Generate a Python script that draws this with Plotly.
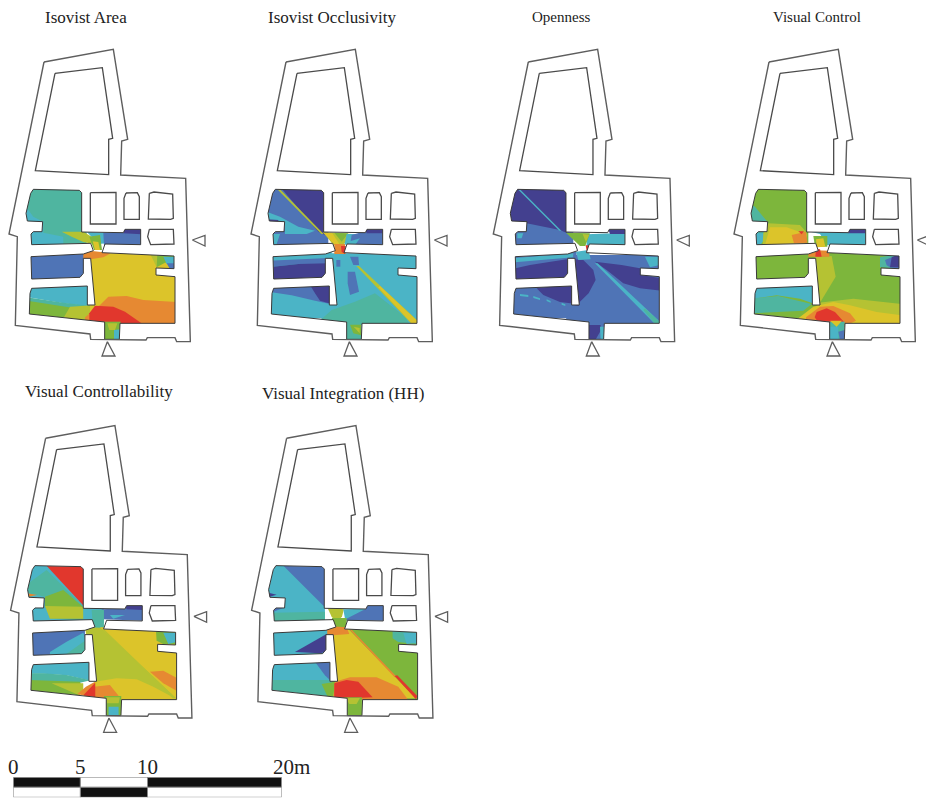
import plotly.graph_objects as go

# ---------- palette of the isovist value classes ----------
COL = dict(I="#43408f", B="#4f74b6", C="#4bb4c6", T="#4fb5a0", G="#7db63c",
           L="#b5c233", Y="#dcc42a", O="#e68932", R="#e1372d")

TITLES = ["Isovist Area", "Isovist Occlusivity", "Openness", "Visual Control",
          "Visual Controllability", "Visual Integration (HH)"]
TITLE_X = [86, 332, 560.5, 816.5, 99, 343]
TITLE_Y = [17, 17, 17, 17, 391, 393]
TITLE_SIZE = [17, 17, 15, 15, 17, 17]
PANEL_DX = [0, 242, 484.3, 725, 1.6, 242.6]
PANEL_DY = [0, 0, 0, 0, 376.3, 376.3]

# ---------- plan geometry (plan units) ----------
OUTER = [(132,66),(340,28),(383,298),(365,303),(362,405),(557,415),(571,905),(530,905),(525,893),
         (442,893),(438,900),(272,898),(270,882),(46,856),(52,590),(27,582),(132,66)]
VOIDS = [
    [(165,100),(307,83),(338,295),(326,298),(326,404),(106,392),(165,100)],
    [(271,458),(348,457),(348,552),(271,552),(271,458)],
    [(378,459),(412,458),(418,470),(418,538),(372,538),(372,475),(378,459)],
    [(448,460),(462,456),(518,462),(520,535),(512,538),(445,537),(448,460)],
    [(448,568),(520,568),(522,612),(452,614),(443,590),(448,568)],
]
FLOOR = [(100,448),(238,451),(245,458),(245,576),(370,578),(375,568),(422,568),(422,614),(315,612),
         (306,638),(522,648),(522,686),(468,684),(468,705),(525,710),(525,850),(360,850),(358,898),
         (314,898),(314,846),(88,822),(90,760),(95,745),(262,738),(262,795),(285,795),(272,655),
         (250,655),(250,700),(240,712),(95,717),(93,650),(250,642),(280,632),(272,610),(95,614),
         (93,582),(100,575),(126,575),(128,545),(82,543),(78,520),(92,460),(100,448)]
ARROW_S = [(322,905),(345,948),(306,948),(322,905)]
ARROW_E = [(577,600),(615,586),(615,618),(577,600)]

# ---------- value zones per panel, read in crop coordinates ----------
P1_SHIFT = (0, 0)
P1_ZONES = [
 ("T",[(70,440),(260,440),(260,630),(70,630)]),
 ("C",[(78,500),(100,530),(130,545),(130,578),(190,590),(190,620),(85,620),(78,575)]),
 ("L",[(185,575),(250,575),(275,590),(280,612),(250,606),(215,590)]),
 ("C",[(260,575),(318,578),(322,610),(295,612)]),
 ("B",[(310,578),(372,576),(425,565),(425,618),(312,618)]),
 ("I",[(370,580),(372,565),(425,565),(425,583)]),
 ("G",[(268,590),(300,585),(306,630),(282,630)]),
 ("Y",[(278,604),(295,606),(300,630),(285,630)]),
 ("B",[(85,640),(262,640),(262,725),(85,725)]),
 ("C",[(82,735),(275,735),(275,800),(190,790),(85,772)]),
 ("T",[(82,772),(190,788),(270,797),(252,815),(82,805)]),
 ("G",[(82,782),(150,792),(245,808),(235,835),(82,830)]),
 ("L",[(210,800),(290,795),(290,850),(190,835)]),
 ("Y",[(270,635),(530,640),(530,860),(270,860)]),
 ("L",[(452,645),(490,645),(470,682)]),
 ("G",[(472,645),(528,645),(528,670),(495,668),(470,682)]),
 ("C",[(490,650),(528,650),(528,675),(500,672)]),
 ("B",[(500,670),(528,670),(528,692),(510,688)]),
 ("O",[(250,630),(332,640),(310,652),(272,658),(250,658)]),
 ("O",[(300,795),(325,770),(380,768),(430,780),(530,786),(530,860),(255,860),(255,832)]),
 ("R",[(285,797),(340,800),(375,815),(428,852),(268,852),(268,820)]),
 ("G",[(310,845),(362,845),(362,902),(310,902)]),
 ("C",[(342,870),(362,868),(362,900),(342,900)]),
 ("L",[(322,850),(352,850),(345,870),(328,870)]),
]
P2_SHIFT = (-21, 390)
P2_ZONES = [
 ("B",[(80,50),(280,50),(280,232),(90,232)]),
 ("I",[(135,50),(270,50),(270,195),(250,185)]),
 ("C",[(95,125),(135,140),(190,170),(240,182),(215,192),(150,192),(150,165),(95,150)]),
 ("I",[(95,148),(130,150),(130,158),(95,156)]),
 ("C",[(110,192),(135,192),(125,222),(105,225)]),
 ("L",[(127,58),(135,58),(266,192),(259,192)]),
 ("L",[(264,186),(350,192),(335,215),(320,228),(295,225)]),
 ("G",[(298,188),(340,190),(320,215)]),
 ("Y",[(265,188),(292,190),(315,225),(300,225)]),
 ("C",[(335,192),(375,192),(360,218),(328,225)]),
 ("B",[(350,195),(395,182),(445,178),(445,228),(345,225)]),
 ("I",[(390,178),(445,178),(445,190),(395,190)]),
 ("C",[(340,215),(375,205),(360,225),(340,225)]),
 ("C",[(100,245),(290,245),(290,300),(100,300)]),
 ("B",[(100,272),(280,264),(280,282),(190,282),(100,292)]),
 ("I",[(100,292),(190,282),(280,280),(280,335),(100,335)]),
 ("C",[(100,345),(290,345),(290,440),(100,440)]),
 ("B",[(105,352),(225,345),(285,345),(285,402),(240,392),(170,376),(105,366)]),
 ("I",[(225,345),(285,345),(290,402),(255,392),(240,370)]),
 ("C",[(275,250),(550,250),(550,465),(240,465),(300,405)]),
 ("C",[(100,405),(310,405),(310,445),(100,445)]),
 ("T",[(360,395),(420,370),(510,440),(525,465),(240,465),(290,420)]),
 ("B",[(338,305),(360,305),(372,365),(345,375),(338,340)]),
 ("B",[(304,270),(316,270),(316,290),(304,290)]),
 ("B",[(345,260),(370,260),(372,285),(355,285)]),
 ("L",[(364,288),(372,288),(548,452),(548,464),(532,464)]),
 ("Y",[(430,352),(435,348),(548,454),(548,464),(534,464)]),
 ("O",[(298,222),(330,222),(332,252),(298,252)]),
 ("R",[(318,228),(332,228),(330,252),(320,246)]),
 ("T",[(330,458),(380,458),(380,512),(330,512)]),
 ("G",[(345,464),(378,464),(378,496),(355,490)]),
 ("L",[(356,470),(374,474),(374,490)]),
]
P3_SHIFT = (-13, 390)
P3_ZONES = [
 ("B",[(85,50),(280,50),(280,232),(95,232)]),
 ("I",[(85,52),(262,55),(262,190),(240,180),(140,160),(85,155)]),
 ("C",[(112,190),(130,190),(125,205),(112,205)]),
 ("C",[(116,60),(122,60),(244,182),(238,182)]),
 ("C",[(320,193),(440,188),(440,228),(320,228)]),
 ("I",[(385,178),(436,178),(436,192),(390,192)]),
 ("G",[(258,188),(330,190),(316,228),(300,228)]),
 ("L",[(308,192),(328,194),(318,216)]),
 ("B",[(95,250),(290,245),(290,335),(95,335)]),
 ("C",[(105,264),(280,250),(280,262),(105,277)]),
 ("I",[(100,296),(150,285),(270,266),(270,330),(100,335)]),
 ("B",[(95,340),(290,340),(290,445),(95,445)]),
 ("I",[(170,355),(282,342),(290,402),(240,396),(190,375)]),
 ("C",[(120,372),(145,375),(145,381),(120,378)]),
 ("C",[(160,378),(180,385),(180,390),(160,384)]),
 ("C",[(200,388),(212,393),(212,398),(200,393)]),
 ("C",[(245,398),(256,403),(256,408),(245,404)]),
 ("B",[(280,255),(545,255),(545,470),(240,470),(285,410)]),
 ("I",[(282,268),(310,270),(340,300),(347,330),(326,370),(300,395),(296,408),(282,405)]),
 ("I",[(345,275),(425,285),(480,295),(480,315),(545,325),(545,362),(480,355),(430,340),(380,300)]),
 ("C",[(495,260),(540,260),(540,285),(510,292)]),
 ("C",[(345,280),(353,280),(540,455),(535,465),(525,462)]),
 ("T",[(490,420),(495,415),(540,456),(535,465),(525,462)]),
 ("C",[(288,245),(326,240),(332,268),(295,270)]),
 ("R",[(317,226),(326,226),(322,252)]),
 ("B",[(315,458),(372,458),(372,512),(315,512)]),
 ("I",[(320,465),(362,465),(362,482),(345,512),(320,512)]),
 ("C",[(360,470),(372,470),(372,512),(362,512)]),
]
P4_SHIFT = (-15, 390)
P4_ZONES = [
 ("G",[(85,50),(265,50),(265,235),(85,235)]),
 ("T",[(85,100),(105,110),(146,160),(146,190),(105,225),(85,225)]),
 ("C",[(100,190),(146,190),(122,224),(100,224)]),
 ("L",[(145,160),(240,165),(258,185),(262,195),(252,224),(128,224),(130,190)]),
 ("Y",[(150,172),(200,172),(240,186),(252,224),(135,224)]),
 ("O",[(215,195),(258,185),(262,218),(222,220)]),
 ("R",[(235,184),(252,184),(245,193)]),
 ("C",[(258,182),(440,176),(440,226),(322,226),(300,192)]),
 ("I",[(380,176),(436,176),(436,190),(385,190)]),
 ("G",[(280,198),(322,198),(322,230),(285,230)]),
 ("Y",[(288,208),(310,205),(316,230),(290,232)]),
 ("G",[(100,250),(280,250),(280,335),(100,335)]),
 ("G",[(95,340),(290,340),(290,445),(95,445)]),
 ("C",[(98,345),(282,342),(284,402),(240,386),(170,376),(100,386)]),
 ("T",[(98,385),(175,378),(275,402),(250,422),(98,430)]),
 ("G",[(270,245),(545,245),(545,470),(240,470),(285,410)]),
 ("L",[(284,262),(335,258),(347,320),(322,360),(300,398)]),
 ("L",[(296,398),(400,386),(545,402),(545,470),(240,470),(280,420)]),
 ("Y",[(235,445),(280,410),(340,396),(390,406),(470,426),(545,436),(545,470),(235,470)]),
 ("O",[(258,442),(300,410),(340,408),(390,430),(408,452),(380,465),(258,458)]),
 ("R",[(290,426),(320,415),(345,426),(372,456),(300,465),(284,442)]),
 ("O",[(265,240),(328,242),(328,260),(265,260)]),
 ("R",[(288,238),(300,238),(305,260),(286,260)]),
 ("T",[(480,262),(540,252),(540,296),(480,292)]),
 ("B",[(495,270),(540,252),(540,296),(510,292),(500,286)]),
 ("I",[(515,262),(540,252),(540,292),(510,292)]),
 ("T",[(318,455),(374,455),(374,512),(318,512)]),
 ("C",[(325,470),(355,470),(355,512),(325,512)]),
 ("Y",[(330,452),(366,452),(350,470)]),
 ("B",[(355,485),(374,480),(374,512),(360,512)]),
]
P5_SHIFT = (-5, 401)
P5_ZONES = [
 ("C",[(80,40),(255,40),(255,220),(80,220)]),
 ("T",[(85,100),(140,60),(250,168),(250,212),(150,205),(135,140),(85,130)]),
 ("G",[(135,140),(190,120),(250,172),(250,185),(135,172)]),
 ("L",[(135,168),(250,170),(252,206),(150,206)]),
 ("R",[(135,42),(255,42),(255,172)]),
 ("O",[(82,130),(112,135),(82,141)]),
 ("C",[(95,175),(135,175),(150,212),(95,212)]),
 ("C",[(250,170),(312,175),(312,218),(250,218)]),
 ("B",[(305,178),(375,175),(375,162),(430,162),(430,212),(310,208)]),
 ("I",[(375,162),(430,162),(430,180),(380,178)]),
 ("C",[(330,195),(375,195),(340,206)]),
 ("T",[(275,180),(312,180),(312,238),(280,238)]),
 ("B",[(90,235),(255,235),(255,320),(90,320)]),
 ("C",[(150,306),(200,275),(250,248),(260,275),(210,315),(150,315)]),
 ("T",[(195,315),(255,272),(265,315)]),
 ("C",[(90,335),(272,330),(272,392),(200,376),(130,371),(90,371)]),
 ("T",[(88,370),(130,370),(200,375),(272,391),(240,398),(88,398)]),
 ("G",[(88,390),(240,395),(250,420),(238,436),(88,422)]),
 ("L",[(155,400),(250,400),(250,425),(238,436)]),
 ("L",[(255,232),(532,240),(532,450),(240,450),(285,400)]),
 ("Y",[(300,232),(480,238),(535,300),(535,450)]),
 ("G",[(468,240),(530,240),(530,282),(490,282),(470,272)]),
 ("C",[(490,248),(530,248),(530,276),(505,282)]),
 ("Y",[(285,395),(350,385),(410,388),(460,410),(530,448),(285,450)]),
 ("O",[(450,365),(490,362),(535,386),(535,425),(490,400)]),
 ("O",[(282,410),(330,405),(362,445),(282,445)]),
 ("O",[(232,432),(258,410),(285,395),(285,445)]),
 ("R",[(250,436),(286,398),(286,442)]),
 ("L",[(306,238),(312,238),(524,442),(520,446)]),
 ("G",[(312,438),(364,438),(364,500),(312,500)]),
 ("L",[(318,442),(360,442),(356,460),(322,460)]),
 ("C",[(326,470),(356,470),(356,498),(326,498)]),
]
P6_SHIFT = (-8, 401)
P6_ZONES = [
 ("C",[(80,40),(255,40),(255,220),(80,220)]),
 ("B",[(125,42),(255,42),(255,172)]),
 ("T",[(95,188),(255,185),(255,215),(95,215)]),
 ("I",[(86,128),(110,134),(86,141)]),
 ("B",[(98,172),(130,174),(98,186)]),
 ("L",[(262,172),(312,178),(306,200),(290,216),(275,200)]),
 ("C",[(310,178),(378,176),(342,206),(316,210)]),
 ("B",[(318,207),(378,176),(378,162),(432,162),(432,212),(318,212)]),
 ("G",[(276,204),(320,204),(320,236),(278,236)]),
 ("C",[(95,238),(285,235),(285,318),(95,318)]),
 ("I",[(165,306),(260,252),(266,304),(240,310)]),
 ("C",[(90,335),(272,330),(272,395),(90,395)]),
 ("B",[(225,335),(272,332),(272,392),(255,376)]),
 ("T",[(90,390),(262,390),(288,395),(282,442),(90,420)]),
 ("G",[(245,402),(288,395),(288,442),(262,438)]),
 ("G",[(276,235),(535,235),(535,450),(276,450)]),
 ("Y",[(262,235),(326,238),(528,445),(280,445),(285,395)]),
 ("T",[(458,240),(530,240),(530,282),(475,276),(458,265)]),
 ("C",[(490,248),(530,248),(530,278),(500,282)]),
 ("O",[(262,228),(320,232),(328,252),(262,257)]),
 ("O",[(285,395),(330,382),(410,382),(475,410),(505,450),(280,450)]),
 ("R",[(283,400),(320,390),(355,395),(398,442),(283,447)]),
 ("O",[(328,238),(334,238),(470,380),(464,382)]),
 ("R",[(464,378),(472,376),(532,438),(528,448)]),
 ("G",[(312,442),(366,442),(366,500),(312,500)]),
 ("L",[(318,444),(360,444),(350,462),(328,462)]),
]
ALL_ZONES = [(P1_ZONES,P1_SHIFT),(P2_ZONES,P2_SHIFT),(P3_ZONES,P3_SHIFT),
             (P4_ZONES,P4_SHIFT),(P5_ZONES,P5_SHIFT),(P6_ZONES,P6_SHIFT)]

# ---------- scale bar (metres) ----------
SCALE_EDGES = [0, 5, 10, 20]
SCALE_LABELS = ["0", "5", "10", "20m"]
ROW_TOP = ["#111111", "#ffffff", "#111111"]
ROW_BOTTOM = ["#ffffff", "#111111", "#ffffff"]

W, H = 926, 801
PLAN_H_PX = 330
fig = go.Figure()
LINE = "#5e5e5e"
layout = {}

def poly(pts, ax, **kw):
    fig.add_trace(go.Scatter(x=[p[0] for p in pts], y=[p[1] for p in pts], mode="lines",
                             xaxis="x"+ax, yaxis="y"+ax, hoverinfo="skip", showlegend=False, **kw))

for i, (dx, dy) in enumerate(zip(PANEL_DX, PANEL_DY)):
    n = str(i + 1)
    wpx = min(240, W - dx)
    xkey = "xaxis" + ("" if i == 0 else n)
    ykey = "yaxis" + ("" if i == 0 else n)
    ax = "" if i == 0 else n
    layout[xkey] = dict(domain=[dx / W, (dx + wpx) / W], range=[0, 3 * wpx], visible=False, fixedrange=True)
    layout[ykey] = dict(domain=[1 - (40 + dy + PLAN_H_PX) / H, 1 - (40 + dy) / H],
                        range=[3 * PLAN_H_PX, 0], visible=False, fixedrange=True)
    zones, (sx, sy) = ALL_ZONES[i]
    for key, pts in zones:
        poly([(x + sx, y + sy) for x, y in pts], ax, fill="toself", fillcolor=COL[key],
             line=dict(width=0, color=COL[key]))
    # white mask round the floor, with the floor left open
    xm, ym = 3 * wpx, 3 * PLAN_H_PX
    mask = [(0, 0), (xm, 0), (xm, ym), (0, ym), (0, 0)] + FLOOR[::-1] + [(0, 0)]
    poly(mask, ax, fill="toself", fillcolor="white", line=dict(width=0, color="white"))
    poly(FLOOR, ax, line=dict(color="#3a3a3a", width=1))
    poly(OUTER, ax, line=dict(color=LINE, width=1.4))
    for v in VOIDS:
        poly(v, ax, line=dict(color="#4a4a4a", width=1.3))
    poly(ARROW_S, ax, line=dict(color=LINE, width=1.3))
    poly(ARROW_E, ax, line=dict(color=LINE, width=1.3))

# scale bar
layout["xaxis7"] = dict(domain=[13.3 / W, 281.7 / W], range=[0, 20], visible=False, fixedrange=True)
layout["yaxis7"] = dict(domain=[1 - 797.3 / H, 1 - 777.3 / H], range=[2, 0], visible=False, fixedrange=True)
lefts = SCALE_EDGES[:-1]
widths = [b - a for a, b in zip(SCALE_EDGES[:-1], SCALE_EDGES[1:])]
for row, cols in ((0.5, ROW_TOP), (1.5, ROW_BOTTOM)):
    fig.add_trace(go.Bar(y=[row] * 3, x=widths, base=lefts, width=1, orientation="h",
                         marker=dict(color=cols, line=dict(color="#8a8a8a", width=1)),
                         xaxis="x7", yaxis="y7", hoverinfo="skip", showlegend=False, cliponaxis=False))

ann = []
for t, x, y, s in zip(TITLES, TITLE_X, TITLE_Y, TITLE_SIZE):
    ann.append(dict(text=t, x=x / W, y=1 - y / H, xref="paper", yref="paper", showarrow=False,
                    xanchor="center", yanchor="middle",
                    font=dict(family="Liberation Serif", size=s, color="#222222")))
for e, lab in zip(SCALE_EDGES, SCALE_LABELS):
    ann.append(dict(text=lab, x=e, xref="x7", y=1 - 767 / H, yref="paper", showarrow=False,
                    xanchor="center", yanchor="middle", xshift=10 if lab.endswith("m") else 0,
                    font=dict(family="Liberation Serif", size=21, color="#222222")))

fig.update_layout(width=W, height=H, margin=dict(l=0, r=0, t=0, b=0), paper_bgcolor="white",
                  plot_bgcolor="rgba(0,0,0,0)", annotations=ann, showlegend=False, barmode="overlay", **layout)
fig.write_html("out.html", config=dict(displayModeBar=False),
               post_script="document.body.style.margin='0';document.documentElement.style.overflow='hidden';")
